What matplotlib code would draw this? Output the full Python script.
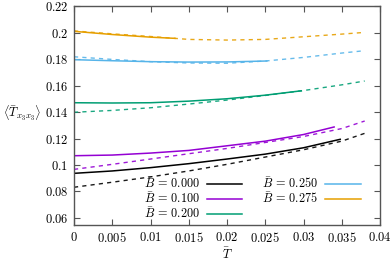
import matplotlib
matplotlib.use("Agg")
import matplotlib.pyplot as plt

plt.rcParams.update({
    "mathtext.fontset": "cm",
    "font.family": "serif",
    "font.serif": ["DejaVu Serif"],
})

# ── Datos ──────────────────────────────────────────────────────
labels = ["0.000", "0.100", "0.200", "0.250", "0.275"]
colors = ["#000000", "#9400D3", "#009E73", "#56B4E9", "#E69F00"]

# curvas continuas (cada una termina antes)
t_solid = [
    [0, 0.005, 0.01, 0.015, 0.02, 0.025, 0.03, 0.0348],
    [0, 0.005, 0.01, 0.015, 0.02, 0.025, 0.03, 0.034],
    [0, 0.005, 0.01, 0.015, 0.02, 0.025, 0.0297],
    [0, 0.005, 0.01, 0.015, 0.02, 0.0252],
    [0, 0.005, 0.01, 0.0132],
]
v_solid = [
    [0.0937, 0.0955, 0.0980, 0.1010, 0.1045, 0.1082, 0.1130, 0.1194],
    [0.1070, 0.1075, 0.1090, 0.1110, 0.1145, 0.1180, 0.1230, 0.1287],
    [0.1470, 0.1468, 0.1470, 0.1482, 0.1500, 0.1527, 0.1560],
    [0.1795, 0.1787, 0.1780, 0.1777, 0.1778, 0.1785],
    [0.2009, 0.1985, 0.1965, 0.1956],
]

# curvas discontinuas
t_dash = [0, 0.005, 0.01, 0.015, 0.02, 0.025, 0.03, 0.035, 0.038]
v_dash = [
    [0.0832, 0.0870, 0.0910, 0.0955, 0.1005, 0.1060, 0.1115, 0.1180, 0.1239],
    [0.0967, 0.1005, 0.1045, 0.1085, 0.1125, 0.1170, 0.1215, 0.1275, 0.1332],
    [0.1398, 0.1412, 0.1432, 0.1460, 0.1490, 0.1525, 0.1562, 0.1605, 0.1634],
    [0.1817, 0.1797, 0.1780, 0.1770, 0.1768, 0.1785, 0.1812, 0.1845, 0.1863],
    [0.2012, 0.1990, 0.1970, 0.1948, 0.1943, 0.1948, 0.1968, 0.1988, 0.2001],
]

xticks = [0, 0.005, 0.01, 0.015, 0.02, 0.025, 0.03, 0.035, 0.04]
xticklabels = ["0", "0.005", "0.01", "0.015", "0.02", "0.025", "0.03", "0.035", "0.04"]
yticks = [0.06, 0.08, 0.10, 0.12, 0.14, 0.16, 0.18, 0.20, 0.22]
yticklabels = ["0.06", "0.08", "0.1", "0.12", "0.14", "0.16", "0.18", "0.2", "0.22"]

fig = plt.figure(figsize=(3.92, 2.62), dpi=100)
ax = fig.add_axes([0.1888, 0.1412, 0.7806, 0.8358])

for i in range(len(labels)):
    ax.plot(t_dash, v_dash[i], color=colors[i], lw=1.0, dashes=(3, 3), alpha=0.9)
    ax.plot(t_solid[i], v_solid[i], color=colors[i], lw=1.1,
            label=r"$\bar{B}\,=\," + labels[i] + "$")

ax.set_xlim(0, 0.04)
ax.set_ylim(0.0547, 0.22)
ax.set_xticks(xticks)
ax.set_xticklabels(["$" + s + "$" for s in xticklabels])
ax.set_yticks(yticks)
ax.set_yticklabels(["$" + s + "$" for s in yticklabels])
ax.tick_params(direction="in", length=4, width=0.8, labelsize=9,
               top=True, right=True, color="#555555", pad=4)
for sp in ax.spines.values():
    sp.set_color("#555555")
    sp.set_linewidth(1.0)

ax.set_xlabel(r"$\bar{T}$", fontsize=9, labelpad=1)
ax.set_ylabel(r"$\left\langle \bar{T}_{x_3x_3} \right\rangle$", fontsize=9,
              rotation=0, ha="center", va="center")
ax.yaxis.set_label_coords(-0.17, 0.516)

ax.legend(ncol=2, loc="lower right", bbox_to_anchor=(0.965, -0.022),
          frameon=False, fontsize=8.8, markerfirst=False, handlelength=2.9,
          labelspacing=0.0, columnspacing=1.6, handletextpad=0.6,
          borderpad=0.2)

fig.savefig("out.png", dpi=100)
